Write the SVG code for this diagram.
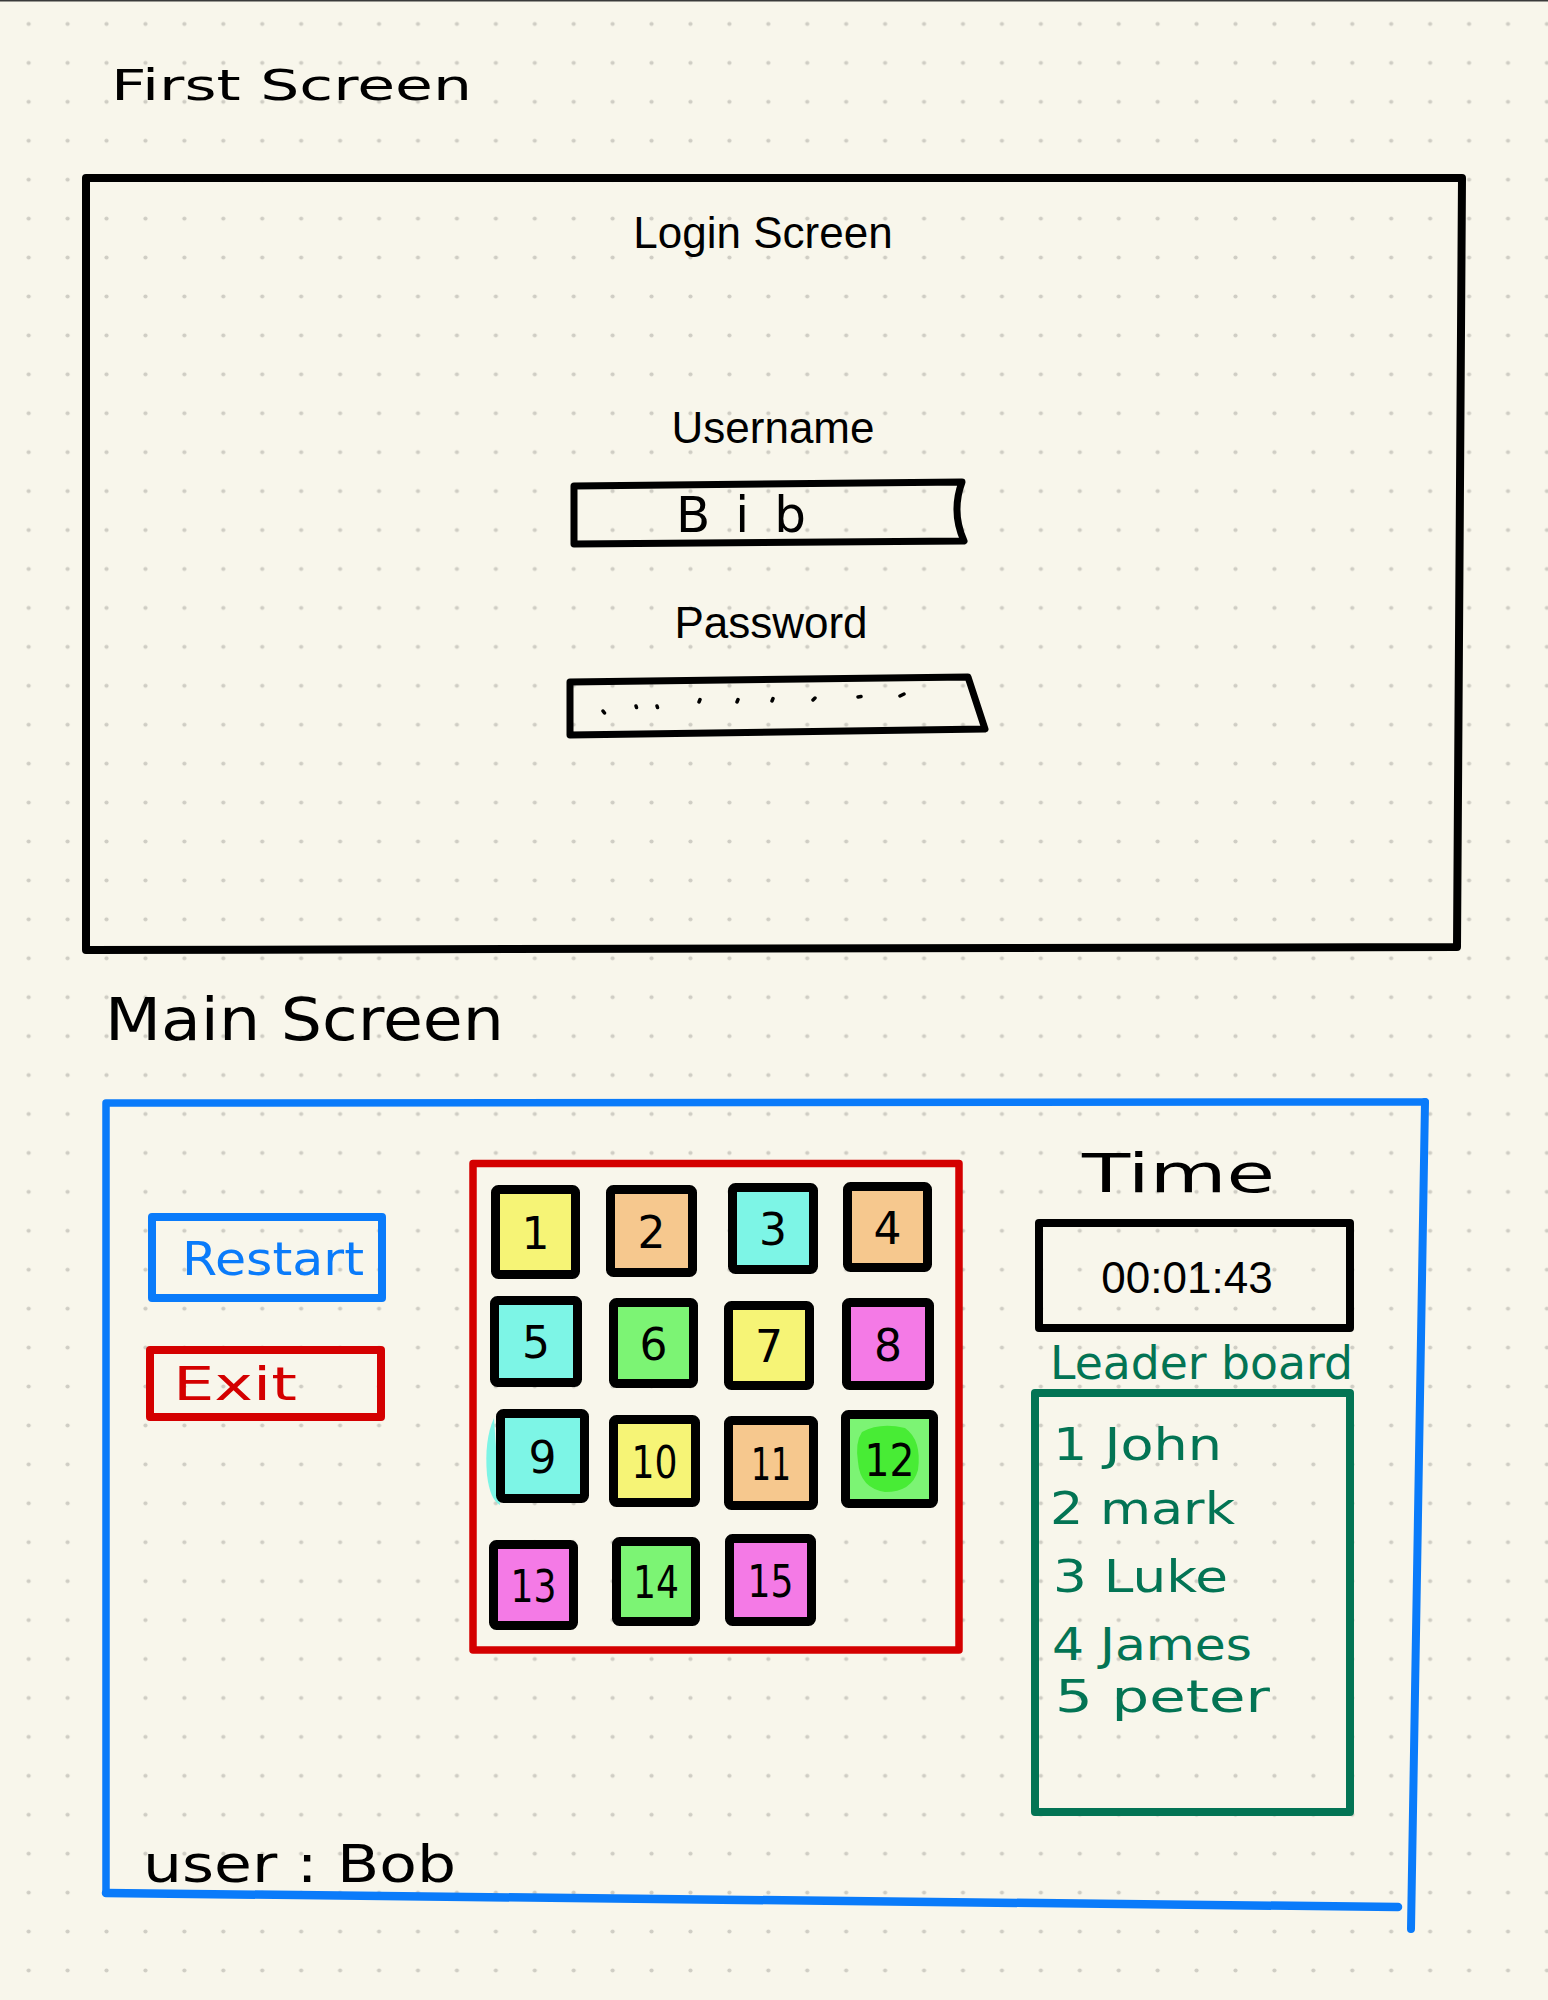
<svg xmlns="http://www.w3.org/2000/svg" width="1548" height="2000" viewBox="0 0 1548 2000">
<defs>
<pattern id="dots" x="9.2" y="4.5" width="38.93" height="38.93" patternUnits="userSpaceOnUse">
<circle cx="19.465" cy="19.465" r="2.1" fill="#cfcdc4"/>
</pattern>
<style>
.bg{fill:#f8f6eb}
.frame{fill:none;stroke:#000;stroke-width:8;stroke-linejoin:round;stroke-linecap:round}
.ui{font-family:"Liberation Sans",Arial,sans-serif;font-size:44px;fill:#000}
.hand{font-family:"DejaVu Sans","Liberation Sans",sans-serif;font-weight:400}
.blue{stroke:#0a7bfa;fill:none;stroke-linecap:round;stroke-linejoin:round}
.red{stroke:#d40000;fill:none;stroke-width:8;stroke-linejoin:round}
.green{stroke:#037454;fill:none;stroke-width:8;stroke-linejoin:round}
.tile{stroke:#000;stroke-width:9;stroke-linejoin:round}
.num{font-family:"DejaVu Sans","Liberation Sans",sans-serif;font-size:44px;fill:#000;text-anchor:middle;font-weight:400}
.y{fill:#f6f476}.o{fill:#f6c88e}.c{fill:#7df5e6}.g{fill:#7cf474}.p{fill:#f47ae6}
.pw{stroke:#000;stroke-width:3.5;stroke-linecap:round;fill:none}
</style>
</defs>
<rect class="bg" x="0" y="0" width="1548" height="2000"/>
<rect x="0" y="0" width="1548" height="2000" fill="url(#dots)"/>
<rect x="0" y="0" width="1548" height="1.5" fill="#3a3a3a"/>

<g id="first-screen-title">
<text class="hand" x="111" y="100" font-size="42" textLength="361" lengthAdjust="spacingAndGlyphs" fill="#000">First Screen</text>
</g>

<g id="login-frame">
<path class="frame" d="M86,178 L1462,178 L1457,947 L86,950 Z"/>
<text class="ui" x="763" y="248" text-anchor="middle">Login Screen</text>
</g>

<g id="username">
<text class="ui" x="773" y="443" text-anchor="middle">Username</text>
<path class="frame" style="stroke-width:7" d="M574,486 L962,482 Q951,512 964,541 L574,544 Z"/>
<text class="hand" x="676" y="532" font-size="50" textLength="130" lengthAdjust="spacing" fill="#000">Bib</text>
</g>

<g id="password">
<text class="ui" x="771" y="638" text-anchor="middle">Password</text>
<path class="frame" style="stroke-width:7" d="M570,682 L968,677 L985,729 L570,735 Z"/>
<path class="pw" d="M603,711 l1.5,2 M636,706 l0.5,1.5 M657,706 l0.5,1.5 M699,702 l1,-2.5 M737,702 l1,-2.5 M772,701 l1,-2.5 M813,700 l2,-2 M858,697 l3,-0.5 M900,696 l4,-2"/>
</g>

<g id="main-screen-title">
<text class="hand" x="105" y="1040" font-size="58" textLength="399" lengthAdjust="spacingAndGlyphs" fill="#000">Main Screen</text>
</g>

<g id="main-frame">
<path class="blue" stroke-width="7.5" d="M106,1893 L106,1103 L1425,1102"/>
<path class="blue" stroke-width="8" d="M1425,1102 L1411,1929"/>
<path class="blue" stroke-width="8.5" d="M106,1893 L1398,1907"/>
</g>

<g id="restart-button">
<rect x="152" y="1217" width="230" height="81" class="blue" stroke-width="8"/>
<text class="hand" x="182" y="1275" font-size="46" textLength="182" lengthAdjust="spacingAndGlyphs" fill="#0a7bfa">Restart</text>
</g>

<g id="exit-button">
<rect x="150" y="1350" width="231" height="67" class="red"/>
<text class="hand" x="173" y="1400" font-size="46" textLength="124" lengthAdjust="spacingAndGlyphs" fill="#d40000">Exit</text>
</g>

<g id="tile-grid">
<rect x="473" y="1163.5" width="486" height="486.5" class="red" style="stroke-width:7.5"/>
<path d="M494,1418 Q484,1440 487,1475 Q490,1500 500,1505 Z" class="c"/>
<g id="tile-1"><rect class="tile y" x="495.5" y="1189.5" width="80" height="85" rx="3"/><text class="num" x="535.5" y="1249">1</text></g>
<g id="tile-2"><rect class="tile o" x="610.5" y="1189.5" width="82" height="83" rx="3"/><text class="num" x="651.5" y="1248">2</text></g>
<g id="tile-3"><rect class="tile c" x="732.5" y="1187.5" width="81" height="82" rx="3"/><text class="num" x="773" y="1245">3</text></g>
<g id="tile-4"><rect class="tile o" x="847.5" y="1186.5" width="80" height="81" rx="3"/><text class="num" x="887.5" y="1244">4</text></g>
<g id="tile-5"><rect class="tile c" x="494.5" y="1300.5" width="83" height="82" rx="3"/><text class="num" x="536" y="1358">5</text></g>
<g id="tile-6"><rect class="tile g" x="613.5" y="1302.5" width="80" height="81" rx="3"/><text class="num" x="653.5" y="1360">6</text></g>
<g id="tile-7"><rect class="tile y" x="728.5" y="1305.5" width="81" height="80" rx="3"/><text class="num" x="769" y="1362">7</text></g>
<g id="tile-8"><rect class="tile p" x="846.5" y="1302.5" width="83" height="83" rx="3"/><text class="num" x="888" y="1361">8</text></g>
<g id="tile-9"><rect class="tile c" x="500.5" y="1413.5" width="84" height="85" rx="3"/><text class="num" x="542.5" y="1473">9</text></g>
<g id="tile-10"><rect class="tile y" x="613.5" y="1419.5" width="82" height="83" rx="3"/><text class="num" x="654.5" y="1478" textLength="46" lengthAdjust="spacingAndGlyphs">10</text></g>
<g id="tile-11"><rect class="tile o" x="728.5" y="1420.5" width="85" height="85" rx="3"/><text class="num" x="771" y="1480" textLength="40" lengthAdjust="spacingAndGlyphs">11</text></g>
<g id="tile-12"><rect class="tile g" x="845.5" y="1414.5" width="88" height="89" rx="3"/><path d="M862,1432 Q880,1422 905,1428 Q922,1440 918,1470 Q912,1492 885,1492 Q860,1488 858,1462 Q855,1442 862,1432 Z" fill="#48ec35"/><text class="num" x="889.5" y="1476" textLength="50" lengthAdjust="spacingAndGlyphs">12</text></g>
<g id="tile-13"><rect class="tile p" x="493.5" y="1544.5" width="80" height="81" rx="3"/><text class="num" x="533.5" y="1602" textLength="46" lengthAdjust="spacingAndGlyphs">13</text></g>
<g id="tile-14"><rect class="tile g" x="616.5" y="1541.5" width="79" height="80" rx="3"/><text class="num" x="656" y="1598" textLength="46" lengthAdjust="spacingAndGlyphs">14</text></g>
<g id="tile-15"><rect class="tile p" x="729.5" y="1538.5" width="82" height="83" rx="3"/><text class="num" x="770.5" y="1597" textLength="46" lengthAdjust="spacingAndGlyphs">15</text></g>
</g>

<g id="time-label">
<text class="hand" x="1082" y="1192" font-size="54" textLength="193" lengthAdjust="spacingAndGlyphs" fill="#000">Time</text>
</g>

<g id="timer">
<rect x="1039" y="1223" width="311" height="105" class="frame"/>
<text class="ui" x="1187" y="1293" text-anchor="middle">00:01:43</text>
</g>

<g id="leaderboard-label">
<text class="hand" x="1050" y="1379" font-size="46" textLength="303" lengthAdjust="spacingAndGlyphs" fill="#037454">Leader board</text>
</g>

<g id="leaderboard">
<rect x="1035" y="1393" width="315" height="419" class="green"/>
<g class="hand" font-size="44" fill="#037454">
<text x="1053" y="1460" textLength="169" lengthAdjust="spacingAndGlyphs">1 John</text>
<text x="1050" y="1524" textLength="185" lengthAdjust="spacingAndGlyphs">2 mark</text>
<text x="1053" y="1592" textLength="175" lengthAdjust="spacingAndGlyphs">3 Luke</text>
<text x="1052" y="1660" textLength="200" lengthAdjust="spacingAndGlyphs">4 James</text>
<text x="1055" y="1712" textLength="215" lengthAdjust="spacingAndGlyphs">5 peter</text>
</g>
</g>

<g id="user-label">
<text class="hand" x="143" y="1882" font-size="52" textLength="313" lengthAdjust="spacingAndGlyphs" fill="#000">user : Bob</text>
</g>

<g id="connectors"></g>
</svg>
